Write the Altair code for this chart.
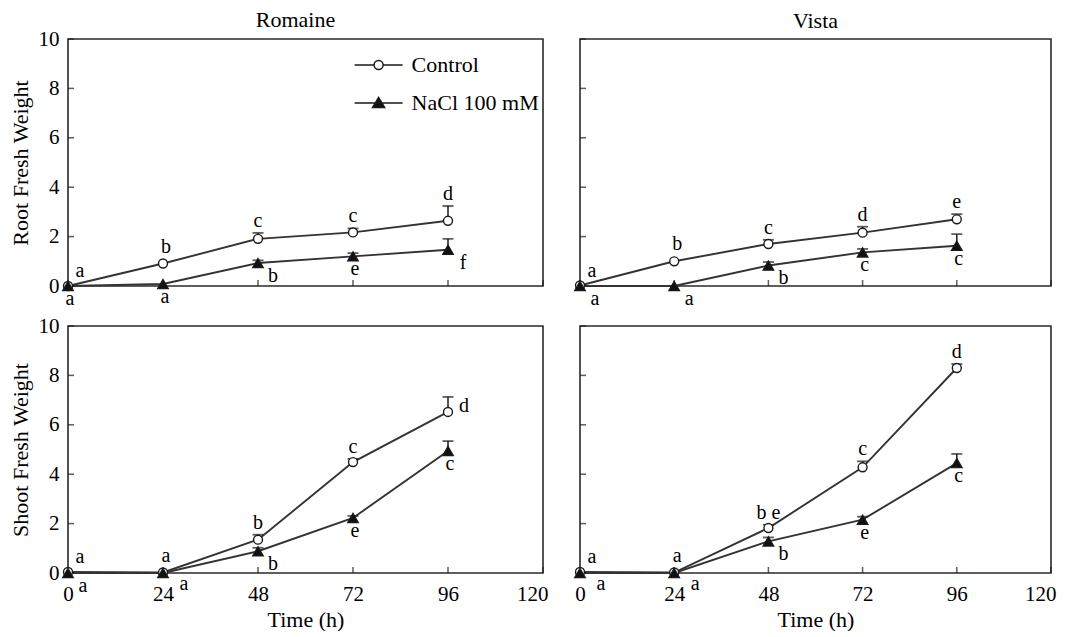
import altair as alt
import pandas as pd

FONT = "Liberation Serif"
INK = "#1a1a1a"
LINE = "#333333"

hours = [0, 24, 48, 72, 96]
x_ticks = [0, 24, 48, 72, 96, 120]
y_ticks = [0, 2, 4, 6, 8, 10]
treatments = ["Control", "NaCl 100 mM"]
cultivars = ["Romaine", "Vista"]
tissues = ["Root Fresh Weight", "Shoot Fresh Weight"]

# ---- Romaine, root ----
romaine_root_control = [0.0, 0.91, 1.91, 2.17, 2.64]
romaine_root_control_err = [0.0, 0.0, 0.24, 0.16, 0.60]
romaine_root_control_letters = ["a", "b", "c", "c", "d"]
romaine_root_control_place = ["aboveright", "abovepoint", "above", "above", "above"]
romaine_root_nacl = [0.0, 0.08, 0.93, 1.20, 1.47]
romaine_root_nacl_err = [0.0, 0.0, 0.11, 0.13, 0.44]
romaine_root_nacl_letters = ["a", "a", "b", "e", "f"]
romaine_root_nacl_place = ["below", "below", "belowright", "below", "belowright"]

# ---- Vista, root ----
vista_root_control = [0.02, 1.00, 1.70, 2.16, 2.70]
vista_root_control_err = [0.0, 0.0, 0.17, 0.24, 0.21]
vista_root_control_letters = ["a", "b", "c", "d", "e"]
vista_root_control_place = ["aboveright", "abovepoint", "above", "above", "above"]
vista_root_nacl = [0.0, 0.0, 0.83, 1.36, 1.63]
vista_root_nacl_err = [0.0, 0.0, 0.14, 0.14, 0.47]
vista_root_nacl_letters = ["a", "a", "b", "c", "c"]
vista_root_nacl_place = ["belowright", "belowright", "belowright", "below", "below"]

# ---- Romaine, shoot ----
romaine_shoot_control = [0.04, 0.02, 1.35, 4.49, 6.52]
romaine_shoot_control_err = [0.0, 0.0, 0.20, 0.13, 0.61]
romaine_shoot_control_letters = ["a", "a", "b", "c", "d"]
romaine_shoot_control_place = ["aboveright", "abovepoint", "above", "above", "right"]
romaine_shoot_nacl = [0.0, 0.0, 0.88, 2.23, 4.94]
romaine_shoot_nacl_err = [0.0, 0.0, 0.14, 0.08, 0.40]
romaine_shoot_nacl_letters = ["a", "a", "b", "e", "c"]
romaine_shoot_nacl_place = ["belowright", "farbelowright", "belowright", "below", "below"]

# ---- Vista, shoot ----
vista_shoot_control = [0.04, 0.02, 1.82, 4.28, 8.30]
vista_shoot_control_err = [0.0, 0.0, 0.13, 0.24, 0.16]
vista_shoot_control_letters = ["a", "a", "b e", "c", "d"]
vista_shoot_control_place = ["aboveright", "abovepoint", "above", "above", "above"]
vista_shoot_nacl = [0.0, 0.0, 1.28, 2.16, 4.45]
vista_shoot_nacl_err = [0.0, 0.0, 0.16, 0.12, 0.37]
vista_shoot_nacl_letters = ["a", "a", "b", "e", "c"]
vista_shoot_nacl_place = ["farbelowright", "farbelowright", "belowright", "below", "below"]

# label placement styles: (dx, dy, anchored on error-bar top?)
PLACE = {
    "above": (0, -12, True),
    "abovepoint": (3, -17, False),
    "aboveright": (12, -15, False),
    "right": (16, -6, False),
    "below": (2, 13, False),
    "belowright": (15, 13, False),
    "farbelowright": (21, 11, False),
}


def build_df(series):
    rows = []
    for trt, vals, errs, lets, places in series:
        for h, v, e, l, p in zip(hours, vals, errs, lets, places):
            rows.append(dict(hour=h, value=v, err=e, upper=v + e, letter=l, place=p,
                             treatment=trt,
                             anchor=(v + e) if PLACE[p][2] else v))
    return pd.DataFrame(rows)


# legend symbols: a short line with the marker in its middle
CTRL_PATH = "M-4.8,0L-0.9,0M0.9,0L4.8,0M-0.9,0A0.9,0.9,0,1,1,0.9,0A0.9,0.9,0,1,1,-0.9,0Z"
NACL_PATH = "M-4.8,0L4.8,0M0,-1.1L1.2,0.9L-1.2,0.9Z"


def make_legend():
    return alt.Legend(
        orient="none", legendX=299.6, legendY=15, title=None, padding=0,
        symbolSize=100, symbolOpacity=1, symbolStrokeColor=INK, symbolStrokeWidth=1.5,
        labelFont=FONT, labelFontSize=22, labelColor="black",
        labelOffset=22, rowPadding=16,
    )


tick_df = pd.DataFrame({"t": x_ticks})
ytick_df = pd.DataFrame({"t": y_ticks})


def panel(df, col, row, width, with_legend=False):
    show_x = row == 1
    show_y = col == 0
    x_axis = alt.Axis(values=x_ticks, labels=show_x,
                      title="Time (h)" if show_x else None)
    y_axis = alt.Axis(values=y_ticks, labels=show_y,
                      title=tissues[row] if show_y else None)
    xs = alt.Scale(domain=[0, 120], nice=False, zero=False)
    ys = alt.Scale(domain=[0, 10], nice=False)

    def X(field="hour"):
        return alt.X(f"{field}:Q", scale=xs, axis=x_axis)

    def Y(field):
        return alt.Y(f"{field}:Q", scale=ys, axis=y_axis)

    base = alt.Chart(df)
    lines = base.mark_line(color=LINE, strokeWidth=1.9).encode(
        x=X(), y=Y("value"), detail="treatment:N")
    # inside ticks along bottom and left edges
    xt = alt.Chart(tick_df).mark_tick(orient="vertical", size=6, thickness=1.5,
                                      color=INK, yOffset=-3).encode(
        x=X("t"), y=alt.YDatum(datum=0, scale=ys, axis=y_axis))
    yt = alt.Chart(ytick_df).mark_tick(orient="horizontal", size=6, thickness=1.5,
                                       color=INK, xOffset=3).encode(
        y=Y("t"), x=alt.XDatum(datum=0, scale=xs, axis=x_axis))
    err_rule = base.transform_filter("datum.err > 0").mark_rule(
        color=INK, strokeWidth=1.5).encode(x=X(), y=Y("value"), y2="upper:Q")
    err_cap = base.transform_filter("datum.err > 0").mark_tick(
        orient="horizontal", color=INK, thickness=1.8, size=11).encode(
        x=X(), y=Y("upper"))
    pts_ctrl = base.transform_filter("datum.treatment === 'Control'").mark_point(
        shape="circle", filled=True, fill="white", opacity=1, stroke=INK,
        strokeWidth=1.4, size=80).encode(x=X(), y=Y("value"))
    pts_nacl = base.transform_filter("datum.treatment !== 'Control'").mark_point(
        shape="triangle-up", filled=True, fill="#111111", opacity=1, stroke=INK,
        strokeWidth=1.2, size=115).encode(x=X(), y=Y("value"))
    layers = [lines, xt, yt, err_rule, err_cap, pts_ctrl, pts_nacl]
    for name, (dx, dy, _) in PLACE.items():
        layers.append(
            base.transform_filter(f"datum.place === '{name}'").mark_text(
                dx=dx, dy=dy, font=FONT, fontSize=20, color="black",
                align="center", baseline="middle").encode(
                x=X(), y=Y("anchor"), text="letter:N"))
    if with_legend:
        lg = make_legend()
        layers.append(
            base.mark_point(filled=True, opacity=0, strokeWidth=1.5).encode(
                x=X(), y=Y("value"),
                shape=alt.Shape("treatment:N",
                                scale=alt.Scale(domain=treatments, range=[CTRL_PATH, NACL_PATH]),
                                legend=lg),
                fill=alt.Fill("treatment:N",
                              scale=alt.Scale(domain=treatments, range=["white", "#111111"]),
                              legend=lg),
                stroke=alt.Stroke("treatment:N",
                                  scale=alt.Scale(domain=treatments, range=[INK, INK]),
                                  legend=lg),
            ))
    ch = alt.layer(*layers).properties(width=width, height=247)
    if row == 0:
        ch = ch.properties(title=alt.TitleParams(
            cultivars[col], font=FONT, fontSize=22, fontWeight="normal",
            color="black", offset=-4 if col == 0 else 5, frame="group",
            anchor="middle", dx=-10 if col == 0 else 0))
    return ch


df_rr = build_df([
    ("Control", romaine_root_control, romaine_root_control_err, romaine_root_control_letters, romaine_root_control_place),
    ("NaCl 100 mM", romaine_root_nacl, romaine_root_nacl_err, romaine_root_nacl_letters, romaine_root_nacl_place),
])
df_vr = build_df([
    ("Control", vista_root_control, vista_root_control_err, vista_root_control_letters, vista_root_control_place),
    ("NaCl 100 mM", vista_root_nacl, vista_root_nacl_err, vista_root_nacl_letters, vista_root_nacl_place),
])
df_rs = build_df([
    ("Control", romaine_shoot_control, romaine_shoot_control_err, romaine_shoot_control_letters, romaine_shoot_control_place),
    ("NaCl 100 mM", romaine_shoot_nacl, romaine_shoot_nacl_err, romaine_shoot_nacl_letters, romaine_shoot_nacl_place),
])
df_vs = build_df([
    ("Control", vista_shoot_control, vista_shoot_control_err, vista_shoot_control_letters, vista_shoot_control_place),
    ("NaCl 100 mM", vista_shoot_nacl, vista_shoot_nacl_err, vista_shoot_nacl_letters, vista_shoot_nacl_place),
])

chart = alt.concat(
    panel(df_rr, 0, 0, 475, with_legend=True),
    panel(df_vr, 1, 0, 471),
    panel(df_rs, 0, 1, 475),
    panel(df_vs, 1, 1, 471),
    columns=2,
    spacing={"row": 4, "column": 22},
).resolve_scale(
    shape="independent", fill="independent", stroke="independent"
).properties(
    padding={"left": 0, "top": 0, "right": 2, "bottom": 0}, background="white"
).configure(
    font=FONT
).configure_axis(
    labelFont=FONT, titleFont=FONT, labelFontSize=21, titleFontSize=22,
    titleFontWeight="normal", labelColor="black", titleColor="black",
    domain=False, grid=False, ticks=False,
).configure_axisX(
    labelPadding=10, titlePadding=5,
    labelAlign={"condition": {"test": "datum.value === 120", "value": "right"}, "value": "center"},
    labelOffset={"condition": {"test": "datum.value === 120", "value": 5}, "value": 0},
).configure_axisY(
    labelPadding=9, titlePadding=6,
).configure_text(
    font=FONT
).configure_legend(
    labelFont=FONT
).configure_view(
    stroke="#2a2a2a", strokeWidth=1.6
)

chart.save("out.html", embed_options={"renderer": "svg", "actions": False})
